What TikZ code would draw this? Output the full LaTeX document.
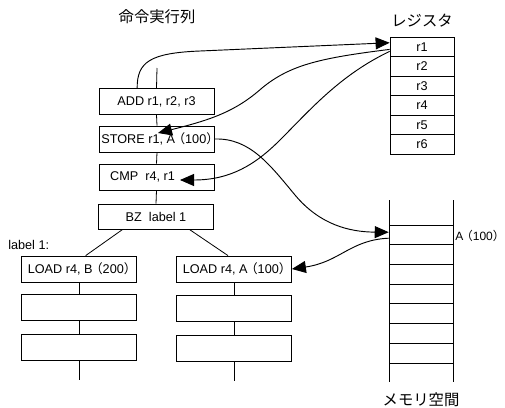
\documentclass[tikz,border=0pt]{standalone}
\usepackage{fontspec}
\setmainfont{Liberation Sans}
\newfontfamily\cjk{Noto Sans CJK JP}
\newfontfamily\cjkh[RawFeature={+halt}]{Noto Sans CJK JP}
\newcommand\pp[1]{\hspace{0.3em}{\cjkh （}#1{\cjkh ）}}
\usetikzlibrary{arrows.meta}
\begin{document}
\begin{tikzpicture}[x=0.75pt,y=-0.75pt,
  box/.style={draw,line width=0.6pt,inner sep=1pt,minimum width=86.25pt,minimum height=19.5pt,font=\fontsize{9.5}{11}\selectfont},
  reg/.style={draw,line width=0.6pt,inner sep=0pt,minimum width=48pt,minimum height=14.6pt,font=\fontsize{9.5}{11}\selectfont},
  ln/.style={line width=0.6pt},
  con/.style={line width=0.7pt,-{Triangle[length=10.5pt,width=9pt]}},
  ttl/.style={font=\cjk\fontsize{11.5}{13}\selectfont},
  lbl/.style={font=\fontsize{9.5}{11}\selectfont,inner sep=0pt}]
\useasboundingbox (0,0) rectangle (505,407);
% titles
\node[ttl] (t1) at (157,17) {命令実行列};
\node[ttl] (t2) at (422,21) {レジスタ};
\node[ttl] (t3) at (421,400) {メモリ空間};
% main stack
\coordinate (top) at (157,68);
\node[box] (add) at (156.5,101.5) {ADD r1, r2, r3};
\node[box] (store) at (157,139) {STORE r1, A\pp{100}};
\node[box] (cmp) at (156.5,177) {CMP\ \ r4, r1\hspace*{21pt}};
\node[box,minimum height=18.75pt] (bz) at (156,216.5) {BZ\ \ label 1};
\draw[ln] (top) -- (add.north);
\draw[ln] (add.south) -- (store.north);
\draw[ln] (store.south) -- (cmp.north);
\draw[ln] (cmp.south) -- (bz.north);
% left branch
\node[lbl,anchor=west] (lab) at (8,245) {label 1:};
\node[box] (l1) at (79,269) {LOAD r4, B\pp{200}};
\node[box] (l2) at (79,307.5) {};
\node[box] (l3) at (79,347) {};
\coordinate (lend) at (79,380);
\draw[ln] ([xshift=-25pt]bz.south) -- ([xshift=5pt]l1.north);
\draw[ln] (l1.south) -- (l2.north);
\draw[ln] (l2.south) -- (l3.north);
\draw[ln] (l3.south) -- (lend);
% right branch
\node[box] (r1b) at (234,269) {LOAD r4, A\pp{100}};
\node[box] (r2b) at (234,308.5) {};
\node[box] (r3b) at (234,348.5) {};
\coordinate (rend) at (234,381);
\draw[ln] ([xshift=25pt]bz.south) -- ([xshift=-4.5pt]r1b.north);
\draw[ln] (r1b.south) -- (r2b.north);
\draw[ln] (r2b.south) -- (r3b.north);
\draw[ln] (r3b.south) -- (rend);
% registers
\foreach \i in {1,...,6}{
  \node[reg] (r\i) at (422,{46.75+19.5*(\i-1)}) {r\i};
}
% memory
\draw[ln] (389,200) -- (389,382);
\draw[ln] (453,200) -- (453,382);
\foreach \k in {0,...,7}{
  \draw[ln] (389,{225+19.7*\k}) -- (453,{225+19.7*\k});
}
\node[inner sep=0pt,minimum width=48pt,minimum height=14.8pt] (mA) at (421,234.85) {};
\node[lbl,anchor=west,font=\fontsize{9}{11}\selectfont] (mAl) at (455,236) {A\pp{100}};
% connectors
\draw[con] ([xshift=-14.5pt]add.north) .. controls (137,62) and (150,53) .. (200,51) -- ([yshift=3pt]r1.west);
\draw[con] ([yshift=-2pt]r1.west) .. controls (320,58) and (290,65) .. (262,88) .. controls (235,112) and (210,120) .. (158,133);
\draw[con] ([yshift=-3.5pt]r1.west) .. controls (340,75) and (310,110) .. (280,140) .. controls (255,165) and (230,180) .. (180,180);
\draw[con] (store.east) .. controls (250,138) and (270,165) .. (295,195) .. controls (320,225) and (350,232) .. ([yshift=2pt]mA.west);
\draw[con] ([yshift=-2.5pt]mA.west) .. controls (350,240) and (340,262) .. (r1b.east);
\end{tikzpicture}
\end{document}
